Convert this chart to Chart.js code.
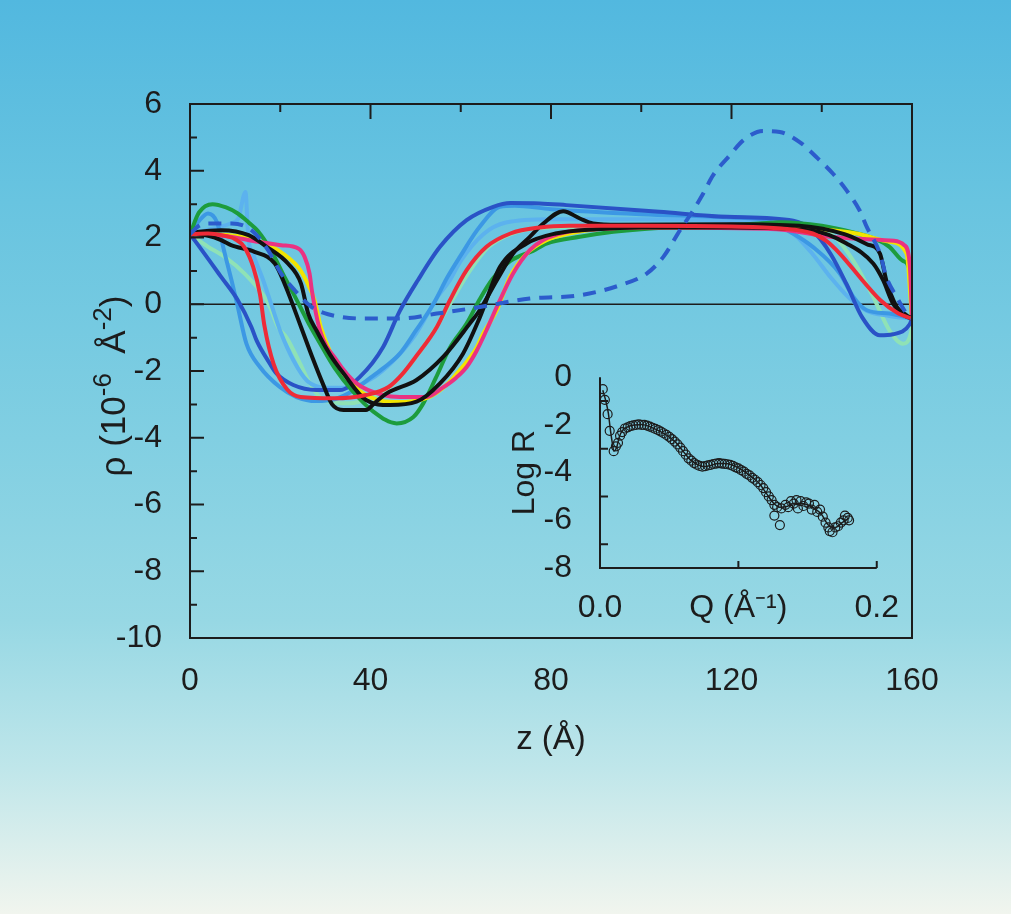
<!DOCTYPE html>
<html>
<head>
<meta charset="utf-8">
<script src="https://cdn.jsdelivr.net/npm/chart.js@4.4.0/dist/chart.umd.min.js"></script>
<style>
  html, body { margin: 0; padding: 0; }
  body {
    width: 1011px; height: 914px; overflow: hidden; position: relative;
    background: linear-gradient(180deg, #52b8df 0%, #68c4e0 22%, #81cfe2 48%, #97d8e4 68%, #bfe6ea 84%, #f1f5ee 100%);
  }
  #main { position: absolute; left: 0; top: 0; }
  #inset { position: absolute; left: 480px; top: 330px; }
</style>
</head>
<body>
<canvas id="main" width="1011" height="914"></canvas>
<canvas id="inset" width="440" height="310"></canvas>
<script>
// density profiles rho(z), z in Angstrom, rho in 1e-6 A^-2
const zRed   = [0, 4, 7, 10, 12, 14, 15.5, 16.5, 18.5, 21.5, 24.5, 32, 39, 44, 47, 50, 54.7, 57.6, 61.3, 65.7, 71, 77.5, 84, 100, 120, 131, 138, 141, 144, 149, 153, 157, 160];
const rhoRed = [2.1, 2.12, 2.07, 1.95, 1.72, 1.12, 0.3, -0.65, -1.78, -2.55, -2.78, -2.82, -2.72, -2.48, -2.1, -1.58, -0.68, 0.12, 1.02, 1.72, 2.12, 2.3, 2.35, 2.35, 2.33, 2.27, 2.12, 1.9, 1.52, 0.72, 0.12, -0.28, -0.43];

const zBlackA   = [0, 2, 7, 13, 17, 21.7, 24.6, 26.2, 28, 31, 34, 39, 44.3, 50.2, 55.4, 60.5, 64.2, 68.7, 74.6, 81, 90, 100, 120, 138, 145.5, 151.4, 153.6, 155.8, 158.8, 160];
const rhoBlackA = [2.1, 2.17, 2.22, 2.07, 1.72, 1.22, 0.62, -0.28, -0.78, -1.5, -2.07, -2.87, -3.02, -2.92, -2.37, -1.48, -0.4, 1.12, 1.82, 2.12, 2.25, 2.3, 2.3, 2.2, 1.82, 1.22, 0.72, 0.02, -0.33, -0.43];

const zBlackB   = [0, 4, 6.9, 9.1, 14.3, 18.8, 21, 24.6, 27, 29.5, 31.5, 34, 39, 41, 43.6, 50.2, 56.1, 62, 64.2, 68, 71.6, 75.3, 78.3, 82.7, 86.4, 89.3, 95, 120, 135, 145, 150, 152.9, 154.3, 156.5, 158.5, 160];
const rhoBlackB = [2.1, 2.05, 1.92, 1.77, 1.57, 1.22, 0.6, -0.68, -1.55, -2.4, -3.0, -3.17, -3.17, -2.95, -2.67, -2.27, -1.58, -0.58, -0.18, 0.72, 1.52, 2.02, 2.42, 2.79, 2.57, 2.42, 2.38, 2.4, 2.35, 2.1, 1.8, 1.52, 0.72, -0.05, -0.35, -0.43];

const zGreen   = [0, 2, 5, 8, 10.6, 13, 15, 18, 21, 22.8, 26.8, 28.5, 32, 36, 40.5, 45.8, 49.5, 51.7, 54.5, 57.6, 61.3, 64.2, 67, 71, 76, 79, 86.4, 93.8, 100, 126, 131, 140, 147, 152, 155, 158, 159.5, 160];
const rhoGreen = [2.1, 2.75, 3.0, 2.9, 2.72, 2.45, 2.2, 1.6, 0.8, 0.35, -0.7, -1.1, -1.9, -2.6, -3.2, -3.57, -3.38, -2.97, -2.2, -1.3, -0.58, 0.15, 0.75, 1.3, 1.6, 1.82, 2.02, 2.17, 2.25, 2.42, 2.46, 2.35, 2.15, 1.95, 1.72, 1.3, 1.0, -0.43];

const zYellow   = [0, 5, 10, 15, 19.5, 23.9, 25.7, 27.6, 29, 31, 34, 38.4, 45, 53, 57, 59, 63.5, 65, 68, 70.9, 74.6, 79, 84, 90, 100, 130, 140, 147.7, 155, 158.8, 160];
const rhoYellow = [2.1, 2.1, 2.05, 1.9, 1.62, 1.12, 0.72, 0.12, -0.69, -1.4, -2.07, -2.67, -2.93, -2.78, -2.4, -2.1, -1.3, -0.87, -0.18, 0.82, 1.52, 1.92, 2.12, 2.25, 2.3, 2.3, 2.25, 2.12, 1.87, 1.52, -0.43];

const zPink   = [0, 5, 10, 15, 20.2, 24, 25.4, 26.5, 27, 28.8, 32.5, 36.9, 42.8, 46.5, 52.4, 56, 59, 61.3, 63.5, 65.7, 68, 71.6, 75.3, 78.2, 83, 90, 100, 130, 141.8, 150, 156, 158.3, 159.5, 160];
const rhoPink = [2.1, 2.08, 2.0, 1.87, 1.77, 1.67, 1.42, 0.92, 0.42, -0.78, -1.68, -2.37, -2.72, -2.78, -2.78, -2.5, -2.2, -1.88, -1.4, -0.78, -0.08, 0.92, 1.62, 1.92, 2.15, 2.25, 2.3, 2.25, 2.02, 1.95, 1.9, 1.77, 1.2, -0.43];

const zRoyal   = [0, 1, 6.9, 10.6, 13.6, 14.8, 17.7, 19.2, 22.9, 28, 33.2, 37.7, 42.8, 46.5, 50.5, 55.4, 61.3, 67.2, 71, 77.5, 83.4, 104, 119, 133.7, 138, 142, 145.5, 149, 152.9, 155.8, 159.5, 160];
const rhoRoyal = [2.1, 1.92, 0.82, 0.12, -0.68, -1.1, -1.78, -2.08, -2.42, -2.57, -2.57, -2.17, -1.28, -0.2, 0.72, 1.72, 2.52, 2.92, 3.03, 3.02, 2.97, 2.77, 2.62, 2.5, 2.2, 1.5, 0.6, -0.4, -0.93, -0.9, -0.6, -0.43];

const zSky   = [0, 2, 4, 6, 7.7, 9.2, 10.6, 12.5, 15.5, 19.9, 23.6, 28, 32, 36, 40, 43, 46.5, 50, 54, 57, 59.8, 64.2, 68.7, 72, 80, 100, 120, 128, 133.6, 138, 144, 147, 150, 155, 160];
const rhoSky = [2.1, 2.5, 2.72, 2.45, 1.52, 0.72, -0.08, -1.18, -1.88, -2.48, -2.78, -2.9, -2.85, -2.6, -2.2, -1.9, -1.48, -0.8, 0.02, 0.8, 1.42, 2.32, 2.92, 2.95, 2.85, 2.7, 2.6, 2.5, 2.12, 1.72, 0.92, 0.22, -0.18, -0.28, -0.43];

const zSpike   = [0, 3, 6, 9, 10.7, 12.3, 12.9, 14, 16, 18, 20, 23, 26, 30, 35, 40, 45, 50, 55, 57.6, 60, 65, 70, 80, 100, 120, 128, 133, 138, 142, 146, 150, 155, 160];
const rhoSpike = [2.1, 2.2, 2.3, 2.42, 2.57, 3.36, 2.02, 1.5, 0.8, 0.0, -0.8, -1.7, -2.3, -2.5, -2.5, -2.25, -1.7, -0.9, 0.25, 0.72, 1.3, 2.1, 2.45, 2.55, 2.55, 2.52, 2.45, 2.2, 1.5, 0.8, 0.2, -0.2, -0.35, -0.43];

const zMint   = [0, 4, 7.7, 12.1, 16.5, 17.7, 19.5, 21.4, 24.4, 26.6, 29.5, 35.4, 40, 45, 50, 55, 58, 62, 66, 72, 80, 120, 138, 143, 147, 151.4, 155, 158, 159.9, 160];
const rhoMint = [2.1, 1.72, 1.42, 0.92, 0.22, -0.08, -0.68, -1.0, -1.78, -2.37, -2.87, -2.97, -2.8, -2.4, -1.6, -0.6, 0.1, 1.0, 1.7, 2.15, 2.3, 2.35, 2.3, 2.0, 1.3, 0.22, -0.78, -1.18, -0.78, -0.43];

const zDashed   = [0, 2, 4.4, 9.2, 13.6, 17.3, 20.2, 23.2, 26.9, 30.6, 39.1, 46.5, 54.7, 63.5, 75.3, 86.4, 95.3, 101.2, 104.9, 108.6, 111.5, 113.7, 115.9, 119.6, 122.6, 127, 130.7, 135.1, 138.8, 142.5, 145.5, 148.4, 150, 152.9, 154.3, 156.6, 158.8, 160];
const rhoDashed = [2.1, 2.35, 2.42, 2.42, 2.22, 1.62, 0.92, 0.42, -0.08, -0.3, -0.43, -0.43, -0.28, -0.1, 0.17, 0.27, 0.57, 0.92, 1.42, 2.22, 2.81, 3.31, 3.86, 4.46, 4.91, 5.19, 5.16, 4.86, 4.41, 3.91, 3.41, 2.81, 2.31, 1.52, 0.82, 0.22, -0.28, -0.43];

// reflectivity inset: measured points and fit
const qObs = [0.002, 0.0035, 0.0055, 0.007, 0.0099, 0.0115, 0.013, 0.0145, 0.016, 0.018, 0.020, 0.022, 0.024, 0.026, 0.028, 0.030, 0.032, 0.034, 0.036, 0.038, 0.040, 0.042, 0.044, 0.046, 0.048, 0.050, 0.052, 0.054, 0.056, 0.058, 0.060, 0.062, 0.064, 0.066, 0.068, 0.070, 0.072, 0.074, 0.076, 0.078, 0.080, 0.082, 0.084, 0.086, 0.088, 0.090, 0.092, 0.094, 0.096, 0.098, 0.100, 0.102, 0.104, 0.106, 0.108, 0.110, 0.112, 0.114, 0.116, 0.118, 0.120, 0.122, 0.124, 0.126, 0.126, 0.128, 0.130, 0.131, 0.134, 0.136, 0.138, 0.140, 0.142, 0.143, 0.145, 0.147, 0.149, 0.151, 0.153, 0.155, 0.157, 0.159, 0.161, 0.163, 0.165, 0.166, 0.168, 0.170, 0.172, 0.174, 0.176, 0.177, 0.179, 0.180];
const logRObs = [-0.5, -0.95, -1.55, -2.25, -3.1, -2.9, -2.75, -2.45, -2.3, -2.15, -2.1, -2.05, -2.02, -2.0, -1.98, -2.0, -2.0, -2.03, -2.07, -2.12, -2.17, -2.22, -2.28, -2.35, -2.42, -2.5, -2.6, -2.7, -2.82, -2.95, -3.1, -3.25, -3.4, -3.5, -3.6, -3.67, -3.72, -3.75, -3.73, -3.7, -3.68, -3.64, -3.62, -3.6, -3.62, -3.63, -3.65, -3.68, -3.72, -3.78, -3.82, -3.9, -3.96, -4.05, -4.12, -4.22, -4.3, -4.4, -4.52, -4.65, -4.82, -5.0, -5.15, -5.35, -5.8, -5.45, -6.2, -5.5, -5.35, -5.45, -5.2, -5.3, -5.15, -5.5, -5.2, -5.4, -5.25, -5.3, -5.55, -5.35, -5.65, -5.55, -5.85, -6.1, -6.3, -6.45, -6.5, -6.3, -6.25, -6.1, -6.0, -5.8, -5.9, -6.0];
const qFit = [0.002, 0.004, 0.006, 0.0075, 0.009, 0.010, 0.012, 0.014, 0.016, 0.020, 0.025, 0.030, 0.035, 0.040, 0.045, 0.050, 0.055, 0.060, 0.065, 0.070, 0.075, 0.080, 0.085, 0.090, 0.095, 0.100, 0.105, 0.110, 0.115, 0.120, 0.125, 0.130, 0.135, 0.140, 0.145, 0.150, 0.155, 0.160, 0.165, 0.170, 0.175, 0.180];
const logRFit = [-0.55, -0.95, -1.5, -2.2, -2.8, -3.1, -2.95, -2.5, -2.25, -2.08, -2.0, -1.98, -2.05, -2.18, -2.32, -2.5, -2.75, -3.1, -3.45, -3.65, -3.75, -3.7, -3.62, -3.62, -3.67, -3.8, -3.98, -4.2, -4.45, -4.85, -5.25, -5.45, -5.42, -5.3, -5.3, -5.35, -5.5, -5.75, -6.2, -6.3, -6.1, -5.9];

const zTicks = [0, 40, 80, 120, 160];
const rhoTicks = [-10, -8, -6, -4, -2, 0, 2, 4, 6];
const insetXLabels = ['0.0', 'Q (Å\u207B\u00B9)', '0.2'];

const FONT = "'Liberation Sans', Arial, sans-serif";
const INK = '#1c1c1c';

// first entry is drawn on top
const curves = [
  { z: zDashed, rho: rhoDashed, color: '#2c5ccc', dash: [13, 9] },
  { z: zRed, rho: rhoRed, color: '#ee2b38' },
  { z: zBlackB, rho: rhoBlackB, color: '#111111' },
  { z: zBlackA, rho: rhoBlackA, color: '#111111' },
  { z: zPink, rho: rhoPink, color: '#ea3282' },
  { z: zYellow, rho: rhoYellow, color: '#f2e400' },
  { z: zGreen, rho: rhoGreen, color: '#1d9c3c' },
  { z: zRoyal, rho: rhoRoyal, color: '#2a52c6' },
  { z: zSky, rho: rhoSky, color: '#3c98e4' },
  { z: zSpike, rho: rhoSpike, color: '#5cb2ee' },
  { z: zMint, rho: rhoMint, color: '#8fe2b6' }
];

function inwardTicks(ctx, pts) {
  ctx.beginPath();
  pts.forEach(p => { ctx.moveTo(p[0], p[1]); ctx.lineTo(p[2], p[3]); });
  ctx.stroke();
}

// rotated y title with real superscripts: rho (10^-6 A^-2)
const rhoTitleParts = [['ρ (10', false], ['-6', true], ['  Å', false], ['-2', true], [')', false]];

const mainFrame = {
  id: 'mainFrame',
  beforeDatasetsDraw(chart) {
    const { ctx, chartArea: a, scales: { y } } = chart;
    const y0 = y.getPixelForValue(0);
    ctx.save();
    ctx.strokeStyle = INK;
    ctx.lineWidth = 1.5;
    ctx.beginPath(); ctx.moveTo(a.left, y0); ctx.lineTo(a.right, y0); ctx.stroke();
    ctx.restore();
  },
  afterDatasetsDraw(chart) {
    const { ctx, chartArea: a, scales: { x, y } } = chart;
    ctx.save();
    ctx.strokeStyle = INK;
    ctx.lineWidth = 2;
    ctx.strokeRect(a.left, a.top, a.right - a.left, a.bottom - a.top);
    const marks = [];
    for (let v = -9; v <= 5; v++) {
      const py = y.getPixelForValue(v);
      marks.push([a.left, py, a.left + (v % 2 === 0 ? 14 : 7), py]);
    }
    for (let v = 20; v <= 140; v += 20) {
      const px = x.getPixelForValue(v);
      marks.push([px, a.top, px, a.top + (v % 40 === 0 ? 15 : 8)]);
    }
    inwardTicks(ctx, marks);
    ctx.restore();
  },
  afterDraw(chart) {
    const ctx = chart.ctx;
    const big = '35px ' + FONT, small = '26px ' + FONT;
    ctx.save();
    ctx.fillStyle = INK;
    ctx.textBaseline = 'alphabetic';
    let total = 0;
    rhoTitleParts.forEach(p => { ctx.font = p[1] ? small : big; total += ctx.measureText(p[0]).width; });
    ctx.translate(125, 386);
    ctx.rotate(-Math.PI / 2);
    let pos = -total / 2;
    rhoTitleParts.forEach(p => {
      ctx.font = p[1] ? small : big;
      ctx.fillText(p[0], pos, p[1] ? -14 : 0);
      pos += ctx.measureText(p[0]).width;
    });
    ctx.restore();
  }
};

new Chart(document.getElementById('main'), {
  type: 'line',
  data: {
    datasets: curves.map(c => ({
      data: c.z.map((z, i) => ({ x: z, y: c.rho[i] })),
      borderColor: c.color,
      borderWidth: 4,
      borderDash: c.dash || [],
      pointRadius: 0,
      fill: false,
      cubicInterpolationMode: 'monotone'
    }))
  },
  options: {
    responsive: false,
    animation: false,
    layout: { padding: { left: 0, right: 99, top: 104, bottom: 0 } },
    plugins: { legend: { display: false }, tooltip: { enabled: false } },
    scales: {
      x: {
        type: 'linear', min: 0, max: 160,
        afterFit: s => { s.height = 276; },
        afterBuildTicks: s => { s.ticks = zTicks.map(v => ({ value: v })); },
        grid: { display: false, drawTicks: false },
        border: { display: false },
        ticks: { padding: 24, color: INK, maxRotation: 0, font: { family: FONT, size: 32 } },
        title: { display: true, text: 'z (Å)', color: INK, font: { family: FONT, size: 33 }, padding: { top: 0, bottom: 154 } }
      },
      y: {
        type: 'linear', min: -10, max: 6,
        afterFit: s => { s.width = 190; },
        afterBuildTicks: s => { s.ticks = rhoTicks.map(v => ({ value: v })); },
        grid: { display: false, drawTicks: false },
        border: { display: false },
        ticks: { padding: 28, color: INK, font: { family: FONT, size: 32 } },
        title: { display: false }
      }
    }
  },
  plugins: [mainFrame]
});

const insetAxes = {
  id: 'insetAxes',
  afterDatasetsDraw(chart) {
    const { ctx, chartArea: a, scales: { x, y } } = chart;
    ctx.save();
    ctx.strokeStyle = INK;
    ctx.lineWidth = 2;
    ctx.beginPath();
    ctx.moveTo(a.left, y.getPixelForValue(0));
    ctx.lineTo(a.left, a.bottom);
    ctx.lineTo(x.getPixelForValue(0.2), a.bottom);
    ctx.stroke();
    const marks = [];
    [-7, -5, -3, -1].forEach(v => {
      const py = y.getPixelForValue(v);
      marks.push([a.left, py, a.left + 8, py]);
    });
    [0.1, 0.2].forEach(v => {
      const px = x.getPixelForValue(v);
      marks.push([px, a.bottom, px, a.bottom - 7]);
    });
    inwardTicks(ctx, marks);
    ctx.restore();
  }
};

new Chart(document.getElementById('inset'), {
  type: 'scatter',
  data: {
    datasets: [
      {
        type: 'line',
        data: qFit.map((q, i) => ({ x: q, y: logRFit[i] })),
        borderColor: INK, borderWidth: 1.5, pointRadius: 0, fill: false,
        cubicInterpolationMode: 'monotone'
      },
      {
        data: qObs.map((q, i) => ({ x: q, y: logRObs[i] })),
        pointStyle: 'circle', pointRadius: 4.5, borderWidth: 1.2,
        pointBorderColor: INK, pointBackgroundColor: 'rgba(0,0,0,0)', showLine: false
      }
    ]
  },
  options: {
    responsive: false,
    animation: false,
    layout: { padding: { left: 0, right: 36, top: 18, bottom: 0 } },
    plugins: { legend: { display: false }, tooltip: { enabled: false } },
    scales: {
      x: {
        type: 'linear', min: 0, max: 0.2,
        afterFit: s => { s.height = 72; },
        afterBuildTicks: s => { s.ticks = [0, 0.1, 0.2].map(v => ({ value: v })); },
        grid: { display: false, drawTicks: false },
        border: { display: false },
        ticks: { padding: 21, color: INK, maxRotation: 0, font: { family: FONT, size: 32 },
          callback: (v, i) => insetXLabels[i] },
        title: { display: false }
      },
      y: {
        type: 'linear', min: -8, max: 0,
        afterFit: s => { s.width = 120; },
        afterBuildTicks: s => { s.ticks = [-8, -6, -4, -2, 0].map(v => ({ value: v })); },
        grid: { display: false, drawTicks: false },
        border: { display: false },
        ticks: { padding: 28, color: INK, font: { family: FONT, size: 32 } },
        title: { display: true, text: 'Log R', color: INK, font: { family: FONT, size: 32 }, padding: { top: 26, bottom: 0 } }
      }
    }
  },
  plugins: [insetAxes]
});
</script>
</body>
</html>
